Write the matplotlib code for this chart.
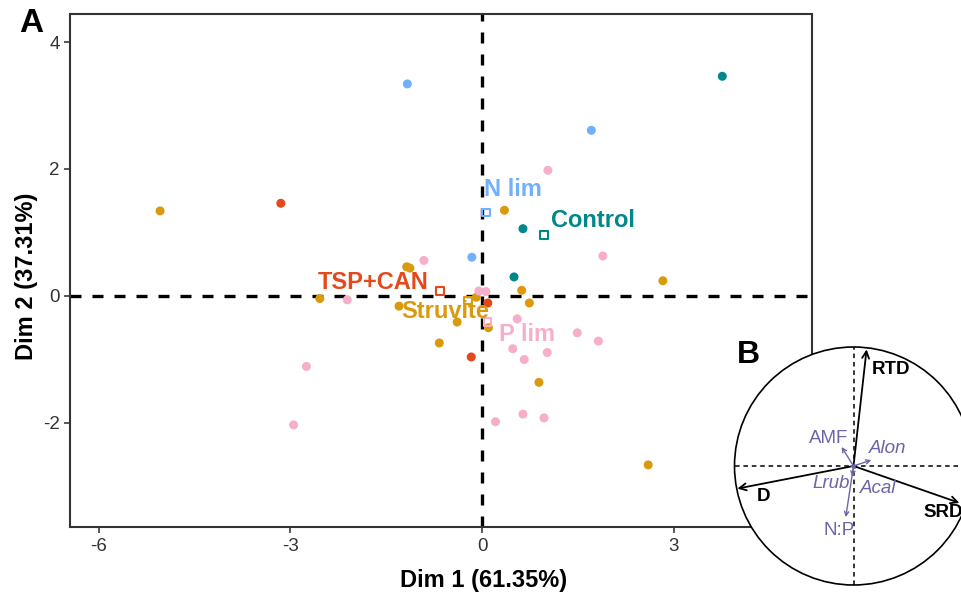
import numpy as np
import matplotlib
matplotlib.use("Agg")
from matplotlib import pyplot as plt
from matplotlib.patches import Circle

plt.rcParams['font.family'] = ['Liberation Sans', 'DejaVu Sans']

# individual samples (Dim 1, Dim 2)
control_x = [3.76, 0.64, 0.50]
control_y = [3.46, 1.06, 0.30]
nlim_x = [-1.17, 1.71, -0.16]
nlim_y = [3.34, 2.61, 0.61]
tsp_x = [-3.15, 0.09, -0.17]
tsp_y = [1.46, -0.11, -0.96]
struvite_x = [-5.04, 0.35, 2.83, -2.54, -1.18, -1.13, -1.30, -0.39, -0.67, -0.09, 0.10, 0.62, 0.74, 0.89, 2.60]
struvite_y = [1.34, 1.35, 0.24, -0.04, 0.46, 0.44, -0.16, -0.41, -0.74, -0.02, -0.50, 0.09, -0.11, -1.36, -2.66]
plim_x = [-0.91, -2.11, -0.05, 0.06, 0.55, 0.48, 0.66, 1.02, -2.75, -2.95, 0.21, 0.64, 0.97, 1.03, 1.89, 1.49, 1.82]
plim_y = [0.56, -0.06, 0.08, 0.07, -0.36, -0.83, -1.00, -0.89, -1.11, -2.03, -1.98, -1.86, -1.92, 1.98, 0.63, -0.58, -0.71]

# group centroids and label positions
groups = ['Control', 'N lim', 'TSP+CAN', 'Struvite', 'P lim']
centroid_x = [0.97, 0.06, -0.66, -0.22, 0.08]
centroid_y = [0.96, 1.32, 0.08, -0.07, -0.41]
label_x = [1.73, 0.49, -1.71, -0.58, 0.70]
label_y = [1.19, 1.67, 0.22, -0.25, -0.60]
colors = ['#00878A', '#70B0FF', '#E4481B', '#DA9A0C', '#F7AECB']

# correlation circle variables
var_names = ['RTD', 'D', 'SRD', 'AMF', 'Alon', 'Lrub', 'Acal', 'N:P']
var_x = [0.11, -0.976, 0.89, -0.10, 0.15, -0.01, 0.02, -0.065]
var_y = [0.98, -0.19, -0.31, 0.16, 0.05, -0.09, -0.03, -0.43]
var_lab_x = [0.154, -0.76, 0.584, -0.21, 0.29, -0.19, 0.21, -0.12]
var_lab_y = [0.81, -0.26, -0.39, 0.235, 0.15, -0.15, -0.185, -0.54]

W, H = 961, 594
fig = plt.figure(figsize=(W / 100, H / 100), dpi=100)
ax = fig.add_axes([70 / W, 67 / H, 742 / W, 513 / H])

ax.axhline(0, color='black', lw=2.4, ls=(0, (3.3, 3.3)), zorder=1)
ax.axvline(0, color='black', lw=2.4, ls=(0, (3.3, 3.3)), zorder=1)

pts = [(control_x, control_y), (nlim_x, nlim_y), (tsp_x, tsp_y),
       (struvite_x, struvite_y), (plim_x, plim_y)]
for (xs, ys), c in zip(pts, colors):
    ax.scatter(xs, ys, s=42, color=c, edgecolors='none', zorder=3)

for i, name in enumerate(groups):
    ax.scatter(centroid_x[i], centroid_y[i], s=28, marker='s', facecolors='none',
               edgecolors=colors[i], linewidths=1.5, zorder=4)
    ax.text(label_x[i], label_y[i], name, color=colors[i], fontsize=17,
            fontweight='bold', ha='center', va='center', zorder=5)

ax.set_xlim(-6.45, 5.164)
ax.set_ylim(-3.638, 4.441)
ax.set_xticks([-6, -3, 0, 3])
ax.set_yticks([-2, 0, 2, 4])
ax.set_xticklabels(['-6', '-3', '0', '3'])
ax.set_yticklabels(['-2', '0', '2', '4'])
ax.tick_params(direction='out', length=4, width=1.2, color='#443344',
               labelsize=13.5, labelcolor='#333333')
ax.tick_params(axis='x', pad=4)
for sp in ax.spines.values():
    sp.set_linewidth(1.5)
    sp.set_color('#333333')

fig.text(484 / W, 1 - 580 / H, 'Dim 1 (61.35%)', fontsize=17, fontweight='bold',
         ha='center', va='center')
fig.text(27 / W, 1 - 276 / H, 'Dim 2 (37.31%)', fontsize=17, fontweight='bold',
         ha='center', va='center', rotation=90)
fig.text(31 / W, 1 - 24 / H, 'A', fontsize=24, fontweight='bold', ha='center', va='center')
fig.text(748 / W, 1 - 355 / H, 'B', fontsize=23, fontweight='bold', ha='center', va='center')

# inset: correlation circle
r_px = 119
half = 125
ax2 = fig.add_axes([(853.5 - half) / W, (594 - 466 - half) / H, 2 * half / W, 2 * half / H])
ax2.patch.set_visible(False)
ax2.set_axis_off()
lim = half / r_px
ax2.set_xlim(-lim, lim)
ax2.set_ylim(-lim, lim)
ax2.add_patch(Circle((0, 0), 1, facecolor='white', edgecolor='black', lw=1.2, zorder=1))
ax2.plot([-1, 1], [0, 0], color='black', lw=1.1, ls=(0, (3, 2.5)), zorder=2)
ax2.plot([0, 0], [-1, 1], color='black', lw=1.1, ls=(0, (3, 2.5)), zorder=2)

purple = '#6B66A6'
for i, name in enumerate(var_names):
    major = i < 3
    c = 'black' if major else purple
    ax2.annotate('', xy=(var_x[i], var_y[i]), xytext=(0, 0),
                 arrowprops=dict(arrowstyle='->,head_length=0.5,head_width=0.25' if major
                                 else '->,head_length=0.3,head_width=0.15',
                                 color=c, lw=1.3 if major else 1.0,
                                 shrinkA=0, shrinkB=0), zorder=3)
    style = 'italic' if name in ('Alon', 'Lrub', 'Acal') else 'normal'
    ha = 'left' if name in ('RTD', 'SRD') else 'center'
    ax2.text(var_lab_x[i], var_lab_y[i], name, color=c, fontsize=13.5,
             fontweight='bold' if major else 'normal', fontstyle=style,
             ha=ha, va='center', zorder=4)

plt.savefig('out.png', dpi=100)
